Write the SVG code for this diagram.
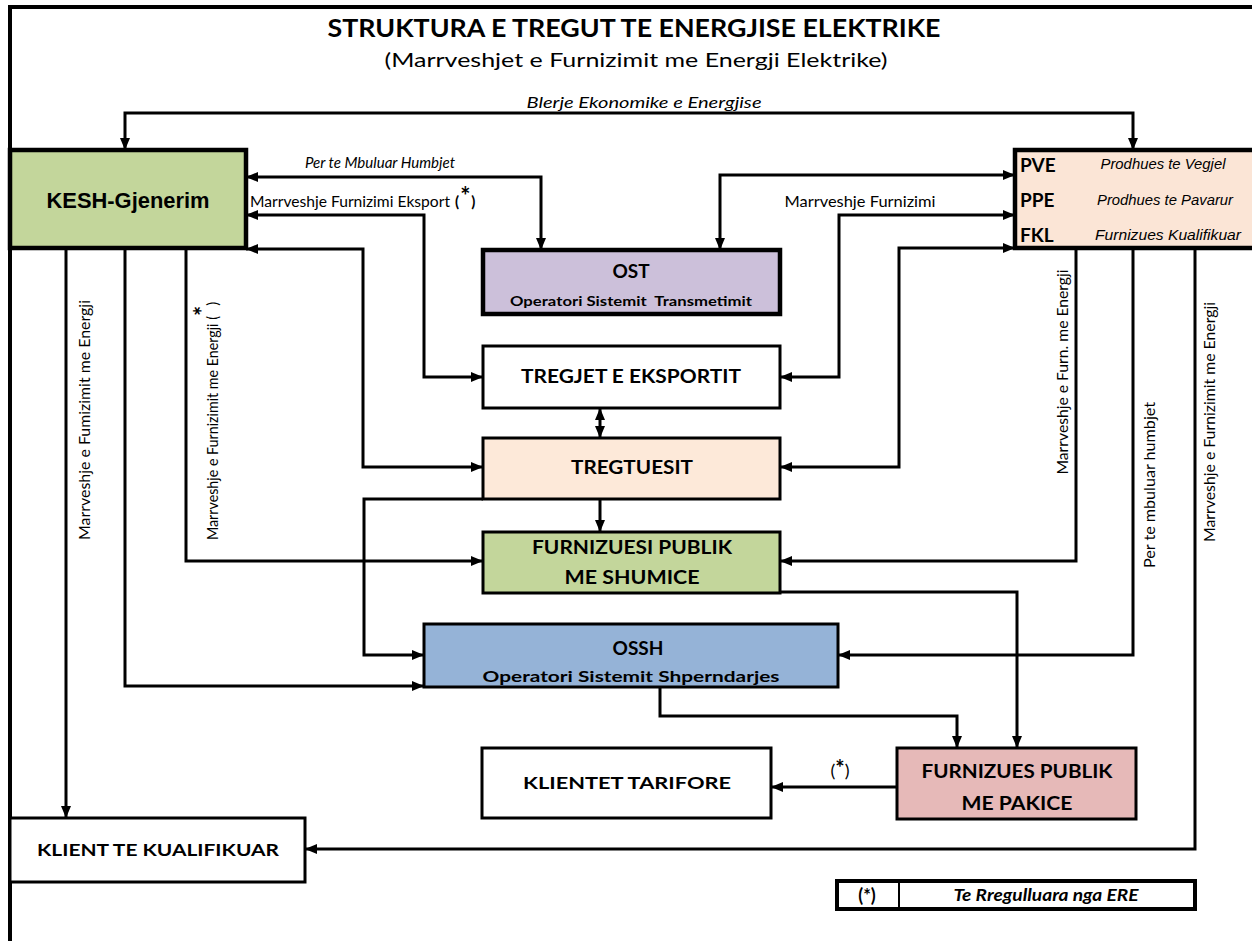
<svg xmlns="http://www.w3.org/2000/svg" width="1252" height="941" viewBox="0 0 1252 941">
<defs>
<marker id="ah" viewBox="0 0 12 10" refX="12" refY="5" markerWidth="12" markerHeight="10" markerUnits="userSpaceOnUse" orient="auto-start-reverse">
<path d="M0,0 L12,5 L0,10 z" fill="#000"/>
</marker>
<style>
.box{stroke:#000;stroke-width:3}
.thick{stroke-width:4.5}
.c{fill:none;stroke:#000;stroke-width:3}
.a{marker-end:url(#ah)}
.b{marker-start:url(#ah);marker-end:url(#ah)}
.t{font-family:Lato,"Open Sans","Liberation Sans",sans-serif;font-weight:bold;fill:#000;text-anchor:middle}
.s{text-anchor:start}
.l{font-family:Lato,"Open Sans","Liberation Sans",sans-serif;fill:#000;font-size:15px}
.ar{font-family:"Liberation Sans",Arial,sans-serif;fill:#000}
</style>
</defs>
<rect width="1252" height="941" fill="#fff"/>
<path d="M10,941 V7 H1252" fill="none" stroke="#000" stroke-width="4"/>
<text class="t" x="634" y="37" font-size="24" textLength="613" lengthAdjust="spacingAndGlyphs">STRUKTURA E TREGUT TE ENERGJISE ELEKTRIKE</text>
<text class="l" x="636" y="67" text-anchor="middle" style="font-size:19px" textLength="503" lengthAdjust="spacingAndGlyphs">(Marrveshjet e Furnizimit me Energji Elektrike)</text>

<g id="connectors">
<path class="c b" d="M125,150 V113 H1133 V150"/>
<path class="c b" d="M246,177 H541 V250"/>
<path class="c b" d="M246,215 H424 V377 H483"/>
<path class="c b" d="M246,249 H363 V467 H483"/>
<path class="c b" d="M720,250 V175 H1015"/>
<path class="c b" d="M1015,215 H839 V377 H780"/>
<path class="c b" d="M1015,248 H899 V467 H780"/>
<path class="c b" d="M600,408 V438"/>
<path class="c a" d="M600,499 V532"/>
<path class="c a" d="M186,248 V561 H483"/>
<path class="c a" d="M1076,248 V561 H780"/>
<path class="c a" d="M483,499 H364 V655 H424"/>
<path class="c a" d="M125,248 V686 H424"/>
<path class="c a" d="M1133,248 V655 H838"/>
<path class="c a" d="M780,592 H1017 V748"/>
<path class="c a" d="M660,687 V716 H957 V748"/>
<path class="c a" d="M897,787 H771"/>
<path class="c a" d="M66,248 V818"/>
<path class="c a" d="M1195,248 V849 H305"/>
<text class="l" x="644" y="108" text-anchor="middle" font-style="italic" textLength="235" lengthAdjust="spacingAndGlyphs">Blerje Ekonomike e Energjise</text>
<text class="l" x="380" y="168" text-anchor="middle" font-style="italic" textLength="150" lengthAdjust="spacingAndGlyphs">Per te Mbuluar Humbjet</text>
<text class="l" x="250" y="207"><tspan textLength="200" lengthAdjust="spacingAndGlyphs">Marrveshje Furnizimi Eksport</tspan><tspan font-weight="bold" dx="5">(</tspan><tspan font-weight="bold" font-size="24" dx="1" dy="-2">*</tspan><tspan font-weight="bold" dx="1" dy="2">)</tspan></text>
<text class="l" x="860" y="207" text-anchor="middle" textLength="151" lengthAdjust="spacingAndGlyphs">Marrveshje Furnizimi</text>
<text class="l" transform="translate(90,420) rotate(-90)" text-anchor="middle" textLength="240" lengthAdjust="spacingAndGlyphs">Marrveshje e Fumizimit me Energji</text>
<text class="l" transform="translate(218,540) rotate(-90)"><tspan textLength="224" lengthAdjust="spacingAndGlyphs">Marrveshje e Furnizimit me Energji (</tspan><tspan font-weight="bold" font-size="24" dy="-6">*</tspan><tspan dy="6">)</tspan></text>
<text class="l" transform="translate(1068,372) rotate(-90)" text-anchor="middle" textLength="205" lengthAdjust="spacingAndGlyphs">Marrveshje e Furn. me Energji</text>
<text class="l" transform="translate(1155,485) rotate(-90)" text-anchor="middle" textLength="166" lengthAdjust="spacingAndGlyphs">Per te mbuluar humbjet</text>
<text class="l" transform="translate(1215,422) rotate(-90)" text-anchor="middle" textLength="240" lengthAdjust="spacingAndGlyphs">Marrveshje e Furnizimit me Energji</text>
<text class="l" x="840" y="777" text-anchor="middle" style="font-size:18px">(<tspan font-weight="bold" font-size="22" dy="-1">*</tspan><tspan dy="1">)</tspan></text>
</g>

<g id="kesh">
<rect class="box thick" x="10" y="150" width="236" height="98" fill="#c3d69b"/>
<text class="ar" x="128" y="208" font-size="22" font-weight="bold" text-anchor="middle" textLength="163" lengthAdjust="spacingAndGlyphs">KESH-Gjenerim</text>
</g>

<g id="pve">
<rect class="box thick" x="1015" y="150" width="240" height="98" fill="#fbe5d6"/>
<text class="t s" x="1020" y="172" font-size="19">PVE</text>
<text class="t s" x="1020" y="207" font-size="19">PPE</text>
<text class="t s" x="1020" y="242" font-size="19">FKL</text>
<text class="ar" x="1163" y="169" font-size="14" font-style="italic" text-anchor="middle" textLength="125" lengthAdjust="spacingAndGlyphs">Prodhues te Vegjel</text>
<text class="ar" x="1165" y="205" font-size="14" font-style="italic" text-anchor="middle" textLength="136" lengthAdjust="spacingAndGlyphs">Prodhues te Pavarur</text>
<text class="ar" x="1168" y="240" font-size="14" font-style="italic" text-anchor="middle" textLength="146" lengthAdjust="spacingAndGlyphs">Furnizues Kualifikuar</text>
</g>

<g id="ost">
<rect class="box thick" x="483" y="250" width="297" height="64" fill="#ccc0da"/>
<text class="t" x="631" y="278" font-size="19">OST</text>
<text class="t" x="631" y="306" font-size="14" textLength="242" lengthAdjust="spacingAndGlyphs" xml:space="preserve">Operatori Sistemit  Transmetimit</text>
</g>

<g id="tregjet">
<rect class="box" x="483" y="346" width="297" height="62" fill="#fff"/>
<text class="t" x="631" y="383" font-size="18" textLength="220" lengthAdjust="spacingAndGlyphs">TREGJET E EKSPORTIT</text>
</g>

<g id="tregtuesit">
<rect class="box" x="483" y="438" width="297" height="61" fill="#fde9d9"/>
<text class="t" x="632" y="474" font-size="18" textLength="122" lengthAdjust="spacingAndGlyphs">TREGTUESIT</text>
</g>

<g id="shumice">
<rect class="box" x="483" y="532" width="297" height="61" fill="#c3d69b"/>
<text class="t" x="632" y="554" font-size="18" textLength="200" lengthAdjust="spacingAndGlyphs">FURNIZUESI PUBLIK</text>
<text class="t" x="632" y="584" font-size="18" textLength="135" lengthAdjust="spacingAndGlyphs">ME SHUMICE</text>
</g>

<g id="ossh">
<rect class="box" x="424" y="624" width="414" height="63" fill="#95b3d7"/>
<text class="t" x="638" y="655" font-size="19">OSSH</text>
<text class="t" x="631" y="682" font-size="16" textLength="297" lengthAdjust="spacingAndGlyphs">Operatori Sistemit Shperndarjes</text>
</g>

<g id="tarifore">
<rect class="box" x="482" y="748" width="289" height="70" fill="#fff"/>
<text class="t" x="627" y="789" font-size="17" textLength="208" lengthAdjust="spacingAndGlyphs">KLIENTET TARIFORE</text>
</g>

<g id="pakice">
<rect class="box" x="897" y="748" width="239" height="71" fill="#e6b9b8"/>
<text class="t" x="1017" y="778" font-size="18" textLength="191" lengthAdjust="spacingAndGlyphs">FURNIZUES PUBLIK</text>
<text class="t" x="1017" y="810" font-size="18" textLength="111" lengthAdjust="spacingAndGlyphs">ME PAKICE</text>
</g>

<g id="kualifikuar">
<rect class="box" x="10" y="818" width="295" height="64" fill="#fff"/>
<text class="t" x="158" y="856" font-size="17" textLength="242" lengthAdjust="spacingAndGlyphs">KLIENT TE KUALIFIKUAR</text>
</g>

<g id="legend">
<rect x="837" y="881" width="358" height="28" fill="#fff" stroke="#000" stroke-width="4"/>
<line x1="899" y1="881" x2="899" y2="909" stroke="#000" stroke-width="2"/>
<text class="t" x="867" y="902" font-size="18">(*)</text>
<text class="t" x="1046" y="901" font-size="17" font-style="italic" textLength="185" lengthAdjust="spacingAndGlyphs">Te Rregulluara nga ERE</text>
</g>
</svg>
